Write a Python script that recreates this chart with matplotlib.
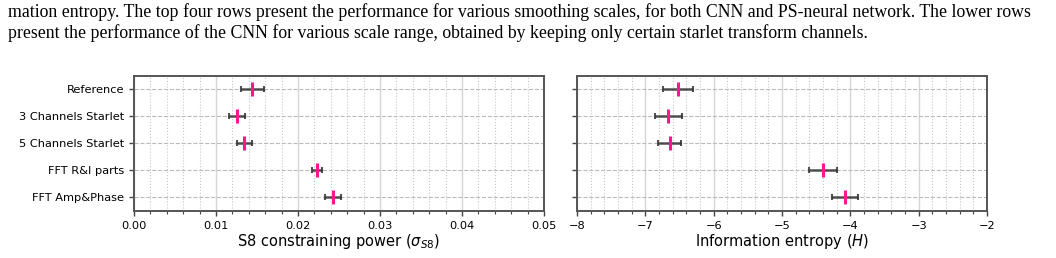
import matplotlib
matplotlib.use("Agg")
import matplotlib.pyplot as plt
from matplotlib.ticker import MultipleLocator, FormatStrFormatter
import numpy as np

# Data
labels = ["Reference", "3 Channels Starlet", "5 Channels Starlet", "FFT R&I parts", "FFT Amp&Phase"]
sigma_s8 = [0.0144, 0.01256, 0.01345, 0.02236, 0.02423]
sigma_s8_err = [0.0014, 0.00095, 0.00092, 0.0006, 0.00098]
entropy = [-6.52, -6.663, -6.643, -4.40, -4.072]
entropy_err = [0.215, 0.195, 0.165, 0.205, 0.19]

caption = [
    "mation entropy. The top four rows present the performance for various smoothing scales, for both CNN and PS-neural network. The lower rows",
    "present the performance of the CNN for various scale range, obtained by keeping only certain starlet transform channels.",
]

fig = plt.figure(figsize=(10.56, 2.58), dpi=100)
ax1 = fig.add_axes([0.1269, 0.1822, 0.3883, 0.5233])
ax2 = fig.add_axes([0.5464, 0.1822, 0.3883, 0.5233], sharey=ax1)

y = np.arange(len(labels))


def style_axis(ax, values, errors, xlim, major, minor, xlabel):
    ax.errorbar(values, y, xerr=errors, fmt="none", ecolor="#333333",
                elinewidth=1.8, capsize=2.5, capthick=1.5, alpha=0.85, zorder=3)
    ax.plot(values, y, linestyle="none", marker="|", color="#ff1493",
            markersize=9.5, markeredgewidth=2.2, zorder=4)
    ax.set_xlim(*xlim)
    ax.xaxis.set_major_locator(MultipleLocator(major))
    ax.xaxis.set_minor_locator(MultipleLocator(minor))
    ax.grid(True, which="major", axis="x", color="#d6d6d6", linestyle="-", linewidth=1.0)
    ax.grid(True, which="minor", axis="x", color="#c8c8c8", linestyle=":", linewidth=0.8)
    ax.grid(True, which="major", axis="y", color="#bbbbbb", linestyle="--", linewidth=0.8)
    ax.set_axisbelow(True)
    ax.tick_params(axis="both", which="major", labelsize=8.2, color="#444444", width=1.0)
    ax.tick_params(axis="x", which="minor", color="#444444", width=0.8, length=2)
    for s in ax.spines.values():
        s.set_color("#555555")
        s.set_linewidth(1.4)
    ax.set_xlabel(xlabel, fontsize=10.5, labelpad=1)


style_axis(ax1, sigma_s8, sigma_s8_err, (0.0, 0.05), 0.01, 0.002,
           r"S8 constraining power ($\sigma_{S8}$)")
ax1.xaxis.set_major_formatter(FormatStrFormatter("%.2f"))
style_axis(ax2, entropy, entropy_err, (-8, -2), 1, 0.2,
           r"Information entropy ($H$)")

ax1.set_yticks(y)
ax1.set_yticklabels(labels)
ax1.set_ylim(4.5, -0.5)
ax2.tick_params(axis="y", labelleft=False)

fig.text(0.008, 0.953, caption[0], fontsize=12.8, family="Liberation Serif", va="center")
fig.text(0.008, 0.872, caption[1], fontsize=12.8, family="Liberation Serif", va="center")

fig.savefig("out.png", dpi=100)
